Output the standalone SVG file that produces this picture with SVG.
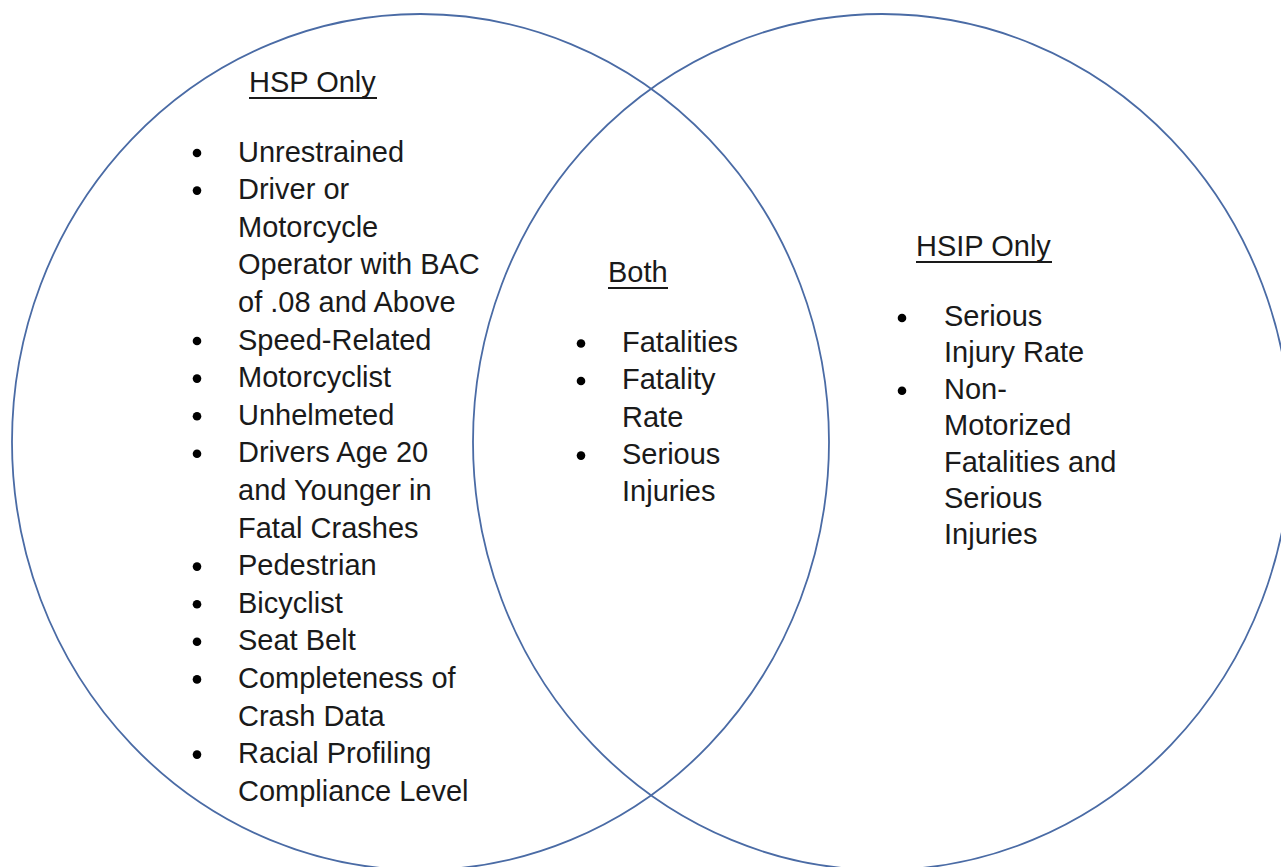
<svg xmlns="http://www.w3.org/2000/svg" width="1281" height="867" viewBox="0 0 1281 867">
<style>
.ring{fill:none;stroke:#4a6ba5;stroke-width:1.8}
text{font-family:"Liberation Sans",Arial,sans-serif;font-size:29px;fill:#1a1a1a}
.ul{stroke:#1a1a1a;stroke-width:1.8}
.b{fill:#000}
</style>
<rect width="1281" height="867" fill="#fff"/>
<g id="hsp-circle"><ellipse class="ring" cx="420.5" cy="442" rx="408.5" ry="428"/></g>
<g id="hsip-circle"><ellipse class="ring" cx="882" cy="442" rx="409" ry="428"/></g>
<g id="hsp-only">
<text x="249" y="92">HSP Only</text>
<line class="ul" x1="249" y1="98" x2="377" y2="98"/>
<g class="b">
<circle cx="197" cy="153" r="4.3"/><circle cx="197" cy="190.6" r="4.3"/><circle cx="197" cy="341" r="4.3"/><circle cx="197" cy="378.6" r="4.3"/><circle cx="197" cy="416.2" r="4.3"/><circle cx="197" cy="453.8" r="4.3"/><circle cx="197" cy="566.6" r="4.3"/><circle cx="197" cy="604.2" r="4.3"/><circle cx="197" cy="641.8" r="4.3"/><circle cx="197" cy="679.4" r="4.3"/><circle cx="197" cy="754.6" r="4.3"/>
</g>
<text x="238" y="161.5">Unrestrained</text>
<text x="238" y="199.1">Driver or</text>
<text x="238" y="236.7">Motorcycle</text>
<text x="238" y="274.3">Operator with BAC</text>
<text x="238" y="311.9">of .08 and Above</text>
<text x="238" y="349.5">Speed-Related</text>
<text x="238" y="387.1">Motorcyclist</text>
<text x="238" y="424.7">Unhelmeted</text>
<text x="238" y="462.3">Drivers Age 20</text>
<text x="238" y="499.9">and Younger in</text>
<text x="238" y="537.5">Fatal Crashes</text>
<text x="238" y="575.1">Pedestrian</text>
<text x="238" y="612.7">Bicyclist</text>
<text x="238" y="650.3">Seat Belt</text>
<text x="238" y="687.9">Completeness of</text>
<text x="238" y="725.5">Crash Data</text>
<text x="238" y="763.1">Racial Profiling</text>
<text x="238" y="800.7">Compliance Level</text>
</g>
<g id="both">
<text x="608" y="282">Both</text>
<line class="ul" x1="608" y1="288" x2="668" y2="288"/>
<g class="b">
<circle cx="581" cy="343.5" r="4.3"/><circle cx="581" cy="381" r="4.3"/><circle cx="581" cy="455.6" r="4.3"/>
</g>
<text x="622" y="352">Fatalities</text>
<text x="622" y="389.3">Fatality</text>
<text x="622" y="426.6">Rate</text>
<text x="622" y="463.9">Serious</text>
<text x="622" y="501.2">Injuries</text>
</g>
<g id="hsip-only">
<text x="916" y="256">HSIP Only</text>
<line class="ul" x1="916" y1="262" x2="1052" y2="262"/>
<g class="b">
<circle cx="902" cy="318" r="4.3"/><circle cx="902" cy="390.8" r="4.3"/>
</g>
<text x="944" y="326">Serious</text>
<text x="944" y="362.4">Injury Rate</text>
<text x="944" y="398.8">Non-</text>
<text x="944" y="435.2">Motorized</text>
<text x="944" y="471.6">Fatalities and</text>
<text x="944" y="508">Serious</text>
<text x="944" y="544.4">Injuries</text>
</g>
<g id="connectors"/>
</svg>
